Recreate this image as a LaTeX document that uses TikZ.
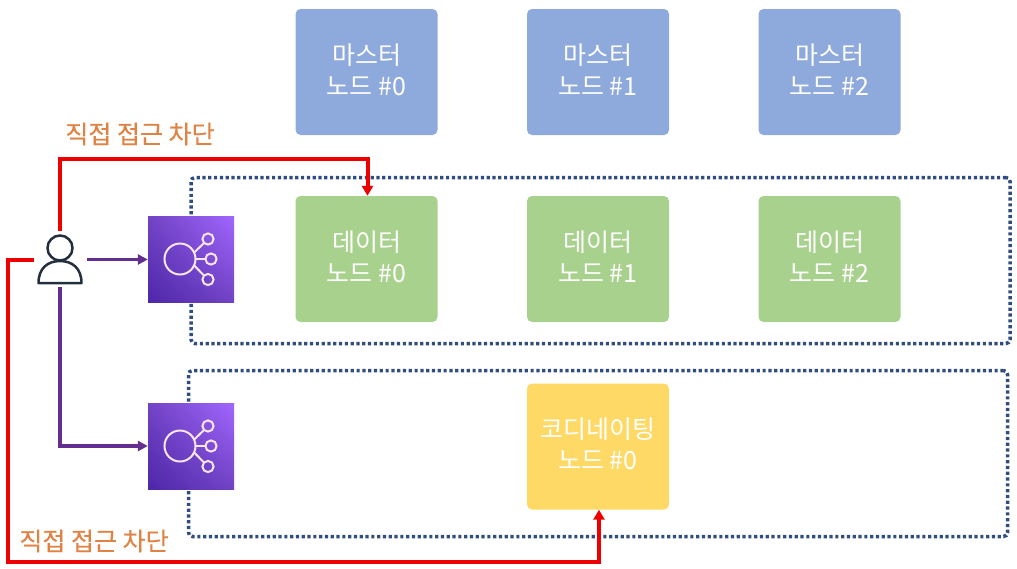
\documentclass[tikz,border=0pt]{standalone}
\usepackage{fontspec}
\setmainfont{Noto Sans CJK KR}
\newfontfamily\notefont[FakeBold=0.4]{Noto Sans CJK KR}
\usetikzlibrary{arrows.meta,shadings}
\definecolor{masterc}{HTML}{8EA9DB}
\definecolor{datac}{HTML}{A9D18E}
\definecolor{coordc}{HTML}{FFD966}
\definecolor{dotc}{HTML}{2F4D7E}
\definecolor{redc}{HTML}{EE0000}
\definecolor{purplec}{HTML}{642D90}
\definecolor{orangec}{HTML}{E08243}
\definecolor{inkc}{HTML}{232F3E}
\definecolor{icolow}{HTML}{4D27A8}
\definecolor{icomid}{HTML}{7243C4}
\definecolor{icohigh}{HTML}{A166FF}
\newcommand{\lowpad}{\rule[-5pt]{0pt}{5pt}}
\tikzset{
  nodebox/.style={rounded corners=5pt,minimum width=142pt,minimum height=126pt,inner sep=0pt,align=center,text=white,font=\fontsize{25}{31}\selectfont},
  masterbox/.style={nodebox,fill=masterc},
  databox/.style={nodebox,fill=datac},
  coordbox/.style={nodebox,fill=coordc},
  zone/.style={draw=dotc,line width=3.5pt,dash pattern=on 3.2pt off 2.6pt,rounded corners=4pt,minimum width=819pt,minimum height=166pt,inner sep=0pt},
  blocked/.style={draw=redc,line width=4pt,-{Triangle[length=10pt,width=11pt]}},
  routed/.style={draw=purplec,line width=3.7pt,-{Triangle[length=10pt,width=10pt]}},
  note/.style={text=orangec,font=\notefont\fontsize{25}{30}\selectfont,inner sep=0pt},
  lbicon/.style={minimum size=86pt,inner sep=0pt,lower left=icolow,upper right=icohigh,upper left=icomid,lower right=icomid},
  icoline/.style={draw=white!90!purple,line width=2pt},
  usermark/.style={draw=inkc,line width=2.5pt}
}
\begin{document}
\begin{tikzpicture}[x=1pt,y=-1pt]
\useasboundingbox (0,0) rectangle (1017,568);
% dotted zones
\node[zone] (zoneA) at (600.5,260.5) {};
\node[zone] (zoneB) at (598,453.5) {};
% nodes
\node[masterbox] (m0) at (366.5,72) {마스터\\노드 \#0\lowpad};
\node[masterbox] (m1) at (598,72) {마스터\\노드 \#1\lowpad};
\node[masterbox] (m2) at (829.5,72) {마스터\\노드 \#2\lowpad};
\node[databox] (d0) at (366.5,259) {데이터\\노드 \#0\lowpad};
\node[databox] (d1) at (598,259) {데이터\\노드 \#1\lowpad};
\node[databox] (d2) at (829.5,259) {데이터\\노드 \#2\lowpad};
\node[coordbox] (c0) at (598,446.5) {코디네이팅\\노드 \#0\lowpad};
% load balancer icons
\node[lbicon] (lbA) at (191,259) {};
\node[lbicon] (lbB) at (191,446) {};
\foreach \n in {lbA,lbB}{
  \begin{scope}[shift={(\n.center)}]
    \draw[icoline] (-11,0) circle[radius=15.5];
    \draw[icoline] (17,-20) circle[radius=5.6];
    \draw[icoline] (20,0) circle[radius=5.6];
    \draw[icoline] (17,20.5) circle[radius=5.6];
    \draw[icoline] (3.2,-6.5) -- (13,-16);
    \draw[icoline] (4.5,0) -- (14.4,0);
    \draw[icoline] (3.2,6.5) -- (13,16.5);
  \end{scope}
}
% user icon
\node[minimum width=44pt,minimum height=50pt,inner sep=0pt] (user) at (60,259) {};
\draw[usermark] (60,248) circle[radius=12.5];
\draw[usermark,line join=round] (38.5,283) .. controls (38.5,268) and (48,261) .. (60,261) .. controls (72,261) and (81.5,268) .. (81.5,283) -- cycle;
% anchors of the connectors
\coordinate (redA) at (60,231);
\coordinate (redB) at (33.5,259.5);
\coordinate (purA) at (87,259.5);
\coordinate (purB) at (60,287);
\coordinate (dropA) at (367.5,159);
\coordinate (dropB) at (599,562);
% connectors
\draw[blocked] (redA) -- (60,159) -- (dropA) -- (dropA |- d0.north);
\draw[blocked] (redB) -- (8,259.5) -- (8,562) -- (dropB) -- (dropB |- c0.south);
\draw[routed] (purA) -- (lbA.west |- purA);
\draw[routed] (purB) -- (60,446) -- (lbB.west);
% labels
\node[note] (noteA) at (140,134) {직접 접근 차단};
\node[note] (noteB) at (94,541) {직접 접근 차단};
\end{tikzpicture}
\end{document}
